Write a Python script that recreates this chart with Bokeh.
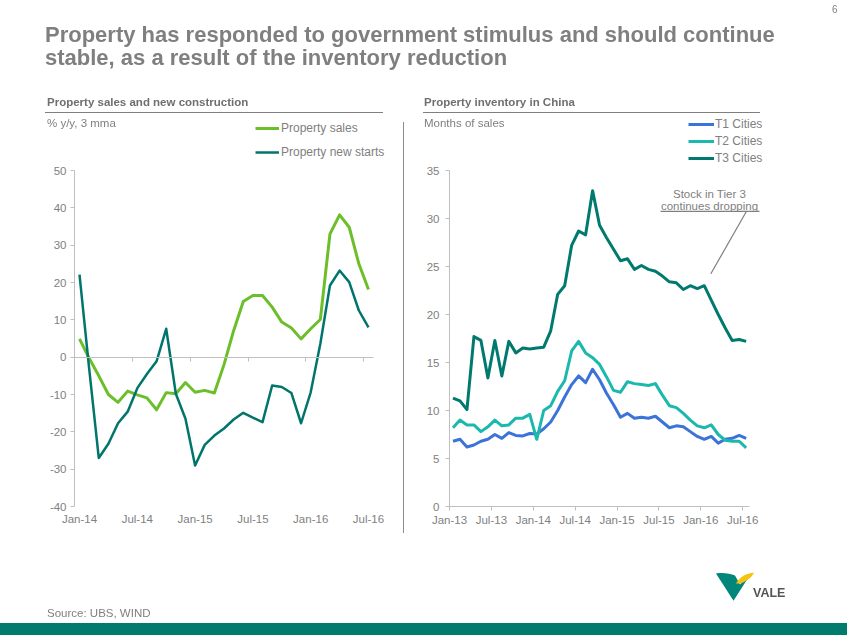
from bokeh.plotting import figure
from bokeh.models import (Range1d, LinearAxis, FixedTicker, Legend, LegendItem,
                          Label, Arrow, Div, Spacer, ColumnDataSource)
from bokeh.layouts import column, row
from bokeh.embed import file_html
from bokeh.resources import INLINE

FONT = "Liberation Sans"
GRAY = "#808080"
AXIS_GRAY = "#bfbfbf"

MONTHS = ["Jan", "Feb", "Mar", "Apr", "May", "Jun", "Jul", "Aug", "Sep", "Oct", "Nov", "Dec"]

# ---------------- left chart data (Jan-14 .. Jul-16) ----------------
left_months = [f"{m}-{y}" for y in ("14", "15", "16") for m in MONTHS][:31]
property_sales = [4.9, -0.3, -5.0, -10.0, -12.1, -9.1, -10.1, -10.9, -14.1, -9.5,
                  -9.8, -6.8, -9.4, -8.9, -9.6, -2.0, 7.1, 14.9, 16.5, 16.5,
                  13.4, 9.4, 7.8, 4.9, 7.6, 10.1, 33.0, 38.1, 34.8, 25.0, 18.1]
property_new_starts = [22.1, -3.0, -27.0, -23.2, -17.7, -14.6, -8.3, -4.5, -1.1, 7.6,
                       -9.8, -16.5, -29.0, -23.5, -21.0, -19.1, -16.7, -14.9, -16.2, -17.4,
                       -7.6, -8.0, -9.6, -17.7, -9.4, 3.6, 19.2, 23.2, 20.1, 12.5, 8.0]
left_tick_idx = [0, 6, 12, 18, 24, 30]
left_y_ticks = [-40, -30, -20, -10, 0, 10, 20, 30, 40, 50]

# ---------------- right chart data (Jan-13 .. Jul-16) ----------------
right_months = [f"{m}-{y}" for y in ("13", "14", "15", "16") for m in MONTHS][:43]
t1_cities = [6.8, 7.0, 6.2, 6.4, 6.8, 7.0, 7.5, 7.1, 7.7, 7.4,
             7.35, 7.6, 7.55, 8.1, 8.8, 10.0, 11.4, 12.7, 13.6, 12.9,
             14.3, 13.2, 11.8, 10.6, 9.3, 9.7, 9.2, 9.3, 9.2, 9.4,
             8.8, 8.2, 8.4, 8.3, 7.8, 7.3, 7.0, 7.3, 6.6, 7.0,
             7.1, 7.4, 7.1]
t2_cities = [8.2, 9.0, 8.5, 8.5, 7.8, 8.3, 9.0, 8.4, 8.5, 9.2,
             9.2, 9.6, 7.0, 10.0, 10.5, 12.0, 13.1, 16.2, 17.2, 16.0,
             15.5, 14.8, 13.5, 12.1, 11.9, 13.0, 12.8, 12.7, 12.6, 12.8,
             11.6, 10.5, 10.3, 9.7, 9.0, 8.4, 8.2, 8.5, 7.5, 6.9,
             6.8, 6.8, 6.1]
t3_cities = [11.3, 11.0, 10.1, 17.7, 17.3, 13.4, 17.3, 13.6, 17.2, 16.0,
             16.5, 16.4, 16.5, 16.6, 18.3, 22.1, 23.0, 27.2, 28.7, 28.3,
             32.9, 29.3, 28.0, 26.8, 25.6, 25.8, 24.7, 25.1, 24.7, 24.5,
             24.0, 23.4, 23.3, 22.6, 23.0, 22.7, 23.0, 21.5, 20.0, 18.6,
             17.3, 17.4, 17.2]
right_tick_idx = [0, 6, 12, 18, 24, 30, 36, 42]
right_y_ticks = [0, 5, 10, 15, 20, 25, 30, 35]

GREEN = "#6cbf2a"
TEAL_L = "#00756c"
T1_C = "#3b73d9"
T2_C = "#1bb8ae"
T3_C = "#007a6e"


def base_style(p):
    p.title.visible = False
    p.outline_line_color = None
    p.xgrid.grid_line_color = None
    p.ygrid.grid_line_color = None
    p.background_fill_color = "white"
    p.border_fill_color = "white"
    for ax in p.axis:
        ax.major_label_text_font = FONT
        ax.major_label_text_font_size = "11.5px"
        ax.major_label_text_color = GRAY
        ax.minor_tick_line_color = None


# ---------------- left figure ----------------
L_PX = 299 / 31.04          # pixels per month
L_YPX = 336 / 90            # pixels per unit
pl = figure(frame_width=311, frame_height=391, min_border_left=29, min_border_right=0,
            min_border_top=0, min_border_bottom=34,
            x_range=Range1d(-0.52, -0.52 + 311 / L_PX),
            y_range=Range1d(-40, 50 + 55 / L_YPX),
            output_backend="svg", toolbar_location=None)
base_style(pl)
pl.yaxis.ticker = FixedTicker(ticks=left_y_ticks)
pl.yaxis.major_label_overrides = {t: str(t) for t in left_y_ticks}
pl.yaxis.bounds = (-40, 50)
pl.yaxis.axis_line_color = AXIS_GRAY
pl.yaxis.major_tick_line_color = AXIS_GRAY
pl.yaxis.major_tick_out = 4
pl.yaxis.major_tick_in = 0
pl.yaxis.major_label_standoff = 4
pl.xaxis.ticker = FixedTicker(ticks=left_tick_idx)
pl.xaxis.major_label_overrides = {i: left_months[i] for i in left_tick_idx}
pl.xaxis.axis_line_color = None
pl.xaxis.major_tick_line_color = None
pl.xaxis.major_tick_out = 0
pl.xaxis.major_tick_in = 0
pl.xaxis.major_label_standoff = 6

boundaries = [i - 0.5 for i in left_tick_idx[1:]]
zero_axis = LinearAxis(fixed_location=0, ticker=FixedTicker(ticks=boundaries),
                       bounds=(-0.52, 30.52),
                       major_label_overrides={b: "" for b in boundaries},
                       axis_line_color=AXIS_GRAY, axis_line_width=1.2,
                       major_tick_line_color=AXIS_GRAY, major_tick_out=4, major_tick_in=0,
                       minor_tick_line_color=None, major_label_text_alpha=0,
                       major_label_text_font_size="1px")
pl.add_layout(zero_axis, "below")

src_l = ColumnDataSource(dict(x=list(range(len(left_months))), sales=property_sales,
                              starts=property_new_starts))
r_sales = pl.line("x", "sales", source=src_l, line_color=GREEN, line_width=3, line_join="round")
r_starts = pl.line("x", "starts", source=src_l, line_color=TEAL_L, line_width=2.5, line_join="round")

leg_l = Legend(items=[LegendItem(label="Property sales", renderers=[r_sales]),
                      LegendItem(label="Property new starts", renderers=[r_starts])],
               location=(181, 347), orientation="vertical", glyph_width=24, glyph_height=14,
               label_height=14, label_standoff=2, spacing=10, padding=0, margin=0,
               border_line_color=None, background_fill_alpha=0,
               label_text_font=FONT, label_text_font_size="12px", label_text_color=GRAY)
pl.add_layout(leg_l)

# ---------------- right figure ----------------
R_PX = 6.98
R_YPX = 9.6
pr = figure(frame_width=314, frame_height=391, min_border_left=25, min_border_right=5,
            min_border_top=0, min_border_bottom=34,
            x_range=Range1d(0, 314 / R_PX), y_range=Range1d(0, 35 + 55 / R_YPX),
            output_backend="svg", toolbar_location=None)
base_style(pr)
pr.yaxis.ticker = FixedTicker(ticks=right_y_ticks)
pr.yaxis.major_label_overrides = {t: str(t) for t in right_y_ticks}
pr.yaxis.bounds = (0, 35)
pr.yaxis.axis_line_color = AXIS_GRAY
pr.yaxis.major_tick_line_color = AXIS_GRAY
pr.yaxis.major_tick_out = 4
pr.yaxis.major_tick_in = 0
pr.yaxis.major_label_standoff = 6
pr.xaxis.ticker = FixedTicker(ticks=right_tick_idx)
pr.xaxis.bounds = (0, 43)
pr.xaxis.major_label_overrides = {i: right_months[i] for i in right_tick_idx}
pr.xaxis.axis_line_color = AXIS_GRAY
pr.xaxis.major_tick_line_color = AXIS_GRAY
pr.xaxis.major_tick_out = 4
pr.xaxis.major_tick_in = 0
pr.xaxis.major_label_standoff = 3

src_r = ColumnDataSource(dict(x=[k + 0.5 for k in range(len(right_months))],
                              t1=t1_cities, t2=t2_cities, t3=t3_cities))
r1 = pr.line("x", "t1", source=src_r, line_color=T1_C, line_width=3, line_join="round")
r2 = pr.line("x", "t2", source=src_r, line_color=T2_C, line_width=3, line_join="round")
r3 = pr.line("x", "t3", source=src_r, line_color=T3_C, line_width=3, line_join="round")

leg_r = Legend(items=[LegendItem(label="T1 Cities", renderers=[r1]),
                      LegendItem(label="T2 Cities", renderers=[r2]),
                      LegendItem(label="T3 Cities", renderers=[r3])],
               location=(239, 341), orientation="vertical", glyph_width=26, glyph_height=14,
               label_height=14, label_standoff=1, spacing=3, padding=0, margin=0,
               border_line_color=None, background_fill_alpha=0,
               label_text_font=FONT, label_text_font_size="12px", label_text_color=GRAY)
pr.add_layout(leg_r)

# callout
callout_lines = ["Stock in Tier 3", "continues dropping"]
callout_x = 37.25
callout_y = [32.6, 31.35]
for txt, yy in zip(callout_lines, callout_y):
    pr.add_layout(Label(x=callout_x, y=yy, text=txt, text_font=FONT,
                        text_font_size="11.5px", text_color=GRAY,
                        text_align="center", text_baseline="alphabetic"))
pr.add_layout(Arrow(end=None, x_start=30.23, y_start=30.75, x_end=44.41, y_end=30.75,
                    line_color="#7f7f7f", line_width=1.2))
pr.add_layout(Arrow(end=None, x_start=42.55, y_start=30.75, x_end=37.44, y_end=24.24,
                    line_color="#7f7f7f", line_width=1.2))

# ---------------- page decorations (fixed to the viewport) ----------------
FF = "font-family:'Liberation Sans',Arial,sans-serif;"


def box(left, top, inner, extra=""):
    return (f'<div style="position:absolute;left:{left}px;top:{top}px;white-space:nowrap;'
            f'{extra}">{inner}</div>')


logo_svg = (
    '<svg width="84" height="36" viewBox="0 0 84 36" xmlns="http://www.w3.org/2000/svg">'
    '<path d="M4,3.5 C11,2.5 18,3.5 23,5.5 L28,14.5 C31,10.5 34,7.5 37,6.5 L21.5,30.8 Z" fill="#00867a"/>'
    '<path d="M24,13.5 C28,6.5 34,3.5 42,2.8 C40,7 36,10.5 29,13.5 Z" fill="#f2c314"/>'
    f'<text x="41" y="26.7" style="{FF}font-size:12.5px;font-weight:bold;" fill="#555555">VALE</text>'
    '</svg>')

overlay_html = (
    f'<div style="position:fixed;left:0;top:0;width:847px;height:635px;pointer-events:none;{FF}">'
    + box(45, 23, 'Property has responded to government stimulus and should continue<br>'
                  'stable, as a result of the inventory reduction',
          'font-size:22px;line-height:23.4px;font-weight:bold;color:#7f7f7f;')
    + box(832, 4, '6', 'font-size:10px;line-height:12px;color:#7f7f7f;')
    + box(45, 95, 'Property sales and new construction',
          'width:338px;border-bottom:1.5px solid #7f7f7f;font-size:11.5px;'
          'line-height:14px;font-weight:bold;color:#6f6f6f;padding-left:2px;box-sizing:border-box;'
          'height:18px;')
    + box(423, 95, 'Property inventory in China',
          'width:337px;height:18px;border-bottom:1.5px solid #7f7f7f;font-size:11.5px;'
          'line-height:14px;font-weight:bold;color:#6f6f6f;padding-left:1px;box-sizing:border-box;')
    + box(47, 116.3, '% y/y, 3 mma', 'font-size:11.5px;line-height:14px;color:#808080;')
    + box(424, 116.3, 'Months of sales', 'font-size:11.5px;line-height:14px;color:#808080;')
    + box(402.5, 122, '', 'width:0;height:411px;border-left:1.5px solid #8c8c8c;')
    + box(47, 605.7, 'Source: UBS, WIND', 'font-size:11.5px;line-height:14px;color:#7f7f7f;')
    + box(712, 570, logo_svg, 'line-height:0;')
    + '<div style="position:absolute;left:0;bottom:0;width:847px;height:12.5px;background:#007b6e;"></div>'
    + '</div>')

overlay = Div(width=1, height=1, margin=0, text=overlay_html)

charts = row(Spacer(width=45, height=425), pl, Spacer(width=38, height=425), pr)
page = column(Spacer(width=800, height=115), charts, overlay)

open("out.html", "w").write(file_html(page, INLINE))
